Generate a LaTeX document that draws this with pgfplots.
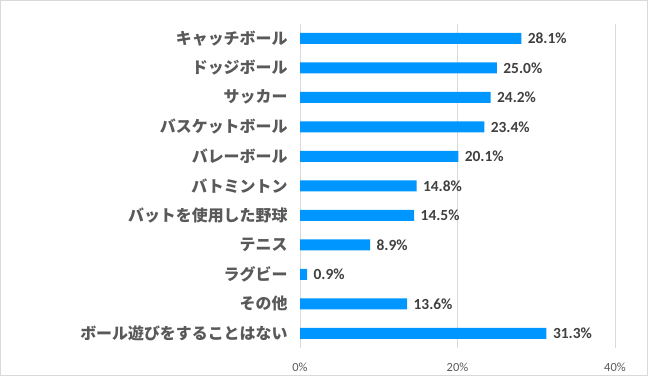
\documentclass[border=0pt]{standalone}
\usepackage{pgfplots}
\pgfplotsset{compat=1.18}
\usepackage{fontspec}
\setmainfont{Carlito}
\newfontfamily\jp{Noto Sans CJK JP}
\definecolor{barblue}{HTML}{0096FF}
\definecolor{gridgray}{HTML}{D9D9D9}
\definecolor{catgray}{HTML}{595959}
\definecolor{valgray}{HTML}{404040}
\begin{document}
\begin{tikzpicture}
\draw[draw=gridgray, line width=1bp] (0.5bp,0.5bp) rectangle (647.5bp,375.5bp);
\begin{axis}[
  at={(300bp,28bp)}, anchor=south west,
  scale only axis, width=315bp, height=324.5bp,
  xbar, bar width=11bp,
  xmin=0, xmax=40, ymin=-0.5, ymax=10.5, y dir=reverse,
  axis line style={draw=none},
  major tick length=0pt,
  /pgf/number format/assume math mode=true,
  xtick={0,20,40}, xticklabels={0\%,20\%,40\%},
  xmajorgrids, grid style={gridgray, line width=0.8bp},
  xticklabel style={font=\fontsize{12.5}{12.5}\selectfont, text=catgray, yshift=-11bp},
  ytick={0,...,10},
  yticklabels={キャッチボール,ドッジボール,サッカー,バスケットボール,バレーボール,バトミントン,バットを使用した野球,テニス,ラグビー,その他,ボール遊びをすることはない},
  yticklabel style={font=\jp\fontsize{16}{16}\selectfont\bfseries, text=catgray, xshift=-9bp},
  nodes near coords={\pgfmathprintnumber[fixed,fixed zerofill,precision=1,assume math mode=true]{\pgfplotspointmeta}\%},
  nodes near coords style={font=\fontsize{15.5}{15.5}\selectfont\bfseries, text=valgray, anchor=west, xshift=3bp},
  point meta=x,
  clip=false,
]
\addplot[draw=none, fill=barblue] coordinates {
(28.1,0) (25.0,1) (24.2,2) (23.4,3) (20.1,4) (14.8,5) (14.5,6) (8.9,7) (0.9,8) (13.6,9) (31.3,10)
};
\end{axis}
\end{tikzpicture}
\end{document}
